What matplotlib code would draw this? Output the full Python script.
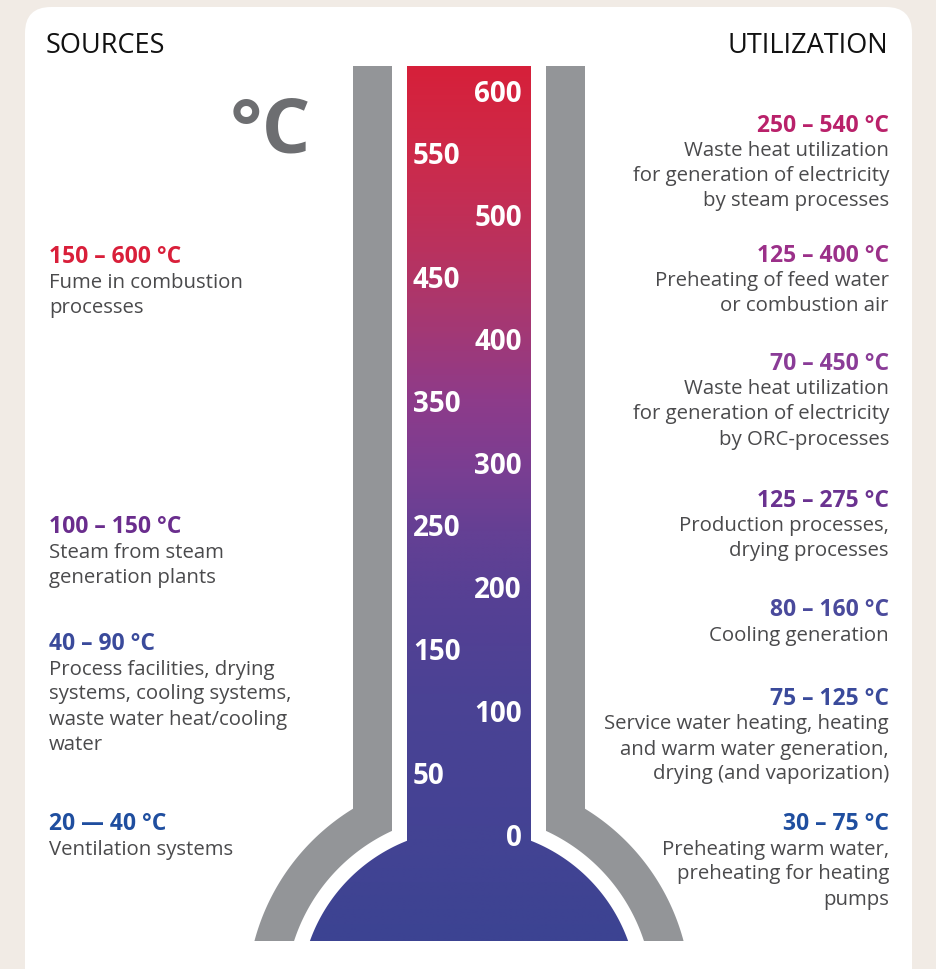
import numpy as np
import matplotlib
matplotlib.use("Agg")
import matplotlib.pyplot as plt
from matplotlib.patches import Polygon, FancyBboxPatch
from matplotlib.colors import LinearSegmentedColormap
from matplotlib.transforms import offset_copy

# ---------------- data ----------------
scale_values = [0, 50, 100, 150, 200, 250, 300, 350, 400, 450, 500, 550, 600]

source_ranges = ["150 – 600 °C", "100 – 150 °C", "40 – 90 °C", "20 — 40 °C"]
source_texts = [
    ["Fume in combustion", "processes"],
    ["Steam from steam", "generation plants"],
    ["Process facilities, drying", "systems, cooling systems,",
     "waste water heat/cooling", "water"],
    ["Ventilation systems"],
]
source_colors = ["#d91f3a", "#6a2d8d", "#3a4a9b", "#1f4e9f"]

util_ranges = ["250 – 540 °C", "125 – 400 °C", "70 – 450 °C", "125 – 275 °C",
               "80 – 160 °C", "75 – 125 °C", "30 – 75 °C"]
util_texts = [
    ["Waste heat utilization", "for generation of electricity", "by steam processes"],
    ["Preheating of feed water", "or combustion air"],
    ["Waste heat utilization", "for generation of electricity", "by ORC-processes"],
    ["Production processes,", "drying processes"],
    ["Cooling generation"],
    ["Service water heating, heating", "and warm water generation,",
     "drying (and vaporization)"],
    ["Preheating warm water,", "preheating for heating", "pumps"],
]
util_colors = ["#b9216a", "#9b3089", "#8a3c97", "#6a3290", "#4a4a9c", "#3a4a9b", "#1f4e9f"]

# ---------------- layout / style ----------------
FONT = ["Open Sans", "DejaVu Sans"]
W, H = 937, 969
BODY_C = "#4a4a4c"
GRAY = "#939598"

fig = plt.figure(figsize=(W / 100, H / 100), dpi=100)
fig.patch.set_facecolor("#f1ebe5")
ax = fig.add_axes([0, 0, 1, 1])
ax.set_xlim(0, W)
ax.set_ylim(H, 0)
ax.axis("off")

# white card
card = FancyBboxPatch((25, 7), 887, 1000,
                      boxstyle="round,pad=0,rounding_size=26",
                      fc="white", ec="none", zorder=0)
ax.add_patch(card)

# thermometer geometry (pixel units)
cx, cy = 469, 998
tube_l, tube_r, top = 407, 531, 66
base = 941
R_bulb, R_in, R_out = 169, 184, 222


def arc(R, p0, p1, n=80):
    p = np.linspace(p0, p1, n)
    return np.column_stack([cx + R * np.sin(p), cy - R * np.cos(p)])


# bulb + tube clip path
pb0 = np.arcsin((tube_r - cx) / R_bulb)
pb1 = np.arccos((cy - base) / R_bulb)
right_arc = arc(R_bulb, pb0, pb1)
left_arc = arc(R_bulb, -pb1, -pb0)
tube_pts = np.vstack([[[tube_l, top], [tube_r, top]], right_arc, left_arc])
tube_poly = Polygon(tube_pts, closed=True, fc="none", ec="none")
ax.add_patch(tube_poly)

grad_cols = [(0.0, "#d6203a"), (0.10, "#cd2a4a"), (0.21, "#b9325f"),
             (0.27, "#ab376d"), (0.38, "#8e3b8a"), (0.46, "#7a3e92"),
             (0.53, "#654094"), (0.61, "#564094"), (0.72, "#4b4294"),
             (0.87, "#444394"), (1.0, "#3c4392")]
cmap = LinearSegmentedColormap.from_list("thermo", grad_cols)
grad = np.linspace(0, 1, 400)[:, None]
im = ax.imshow(grad, cmap=cmap, aspect="auto", origin="upper",
               extent=(290, 650, base, top), zorder=2, interpolation="bilinear")
im.set_clip_path(tube_poly)

# gray walls
for s in (-1, 1):
    x_in = cx + s * (cx - 392)
    x_out = cx + s * (cx - 353)
    pi0 = np.arcsin((x_in - cx) / R_in)
    pi1 = s * np.arccos((cy - base) / R_in)
    po0 = np.arcsin((x_out - cx) / R_out)
    po1 = s * np.arccos((cy - base) / R_out)
    pts = np.vstack([[[x_out, top], [x_in, top]],
                     arc(R_in, pi0, pi1),
                     arc(R_out, po1, po0)])
    ax.add_patch(Polygon(pts, closed=True, fc=GRAY, ec="none", zorder=2))

# headings
ax.text(46, 52.5, "SOURCES", fontsize=19.5, family=FONT, color="#111111",
        ha="left", va="baseline")
ax.text(888, 52.5, "UTILIZATION", fontsize=19.5, family=FONT, color="#111111",
        ha="right", va="baseline")
ax.text(230, 152, "°C", fontsize=55, family=FONT, color="#6d6e71",
        fontweight="bold", ha="left", va="baseline")

# scale labels (temperature axis overlay)
ax2 = fig.add_axes([0, 0, 1, 1])
ax2.set_xlim(0, W)
ax2.set_ylim(-107.7, 674.6)
ax2.axis("off")
ax2.patch.set_alpha(0)
tr = offset_copy(ax2.transData, fig=fig, y=-10, units="dots")
for v in scale_values:
    right = (v // 50) % 2 == 0
    ax2.text(522 if right else 413, v, str(v), transform=tr,
             ha="right" if right else "left", va="baseline",
             fontsize=20, fontweight="bold", family=FONT, color="white",
             zorder=5)

# side texts
LINE = 25
FIRST = 24.5
left_base = [263, 533, 650, 830]
for rng, lines, col, yb in zip(source_ranges, source_texts, source_colors, left_base):
    ax.text(49, yb, rng, fontsize=16.5, fontweight="bold", family=FONT,
            color=col, ha="left", va="baseline")
    for i, ln in enumerate(lines):
        ax.text(49, yb + FIRST + i * LINE, ln, fontsize=14.7, family=FONT,
                color=BODY_C, ha="left", va="baseline")

right_base = [131.5, 261.5, 370, 506.5, 616.5, 705, 830]
for rng, lines, col, yb in zip(util_ranges, util_texts, util_colors, right_base):
    ax.text(889, yb, rng, fontsize=16.5, fontweight="bold", family=FONT,
            color=col, ha="right", va="baseline")
    for i, ln in enumerate(lines):
        ax.text(889, yb + FIRST + i * LINE, ln, fontsize=14.7, family=FONT,
                color=BODY_C, ha="right", va="baseline")

fig.savefig("out.png", dpi=100, facecolor=fig.get_facecolor())
